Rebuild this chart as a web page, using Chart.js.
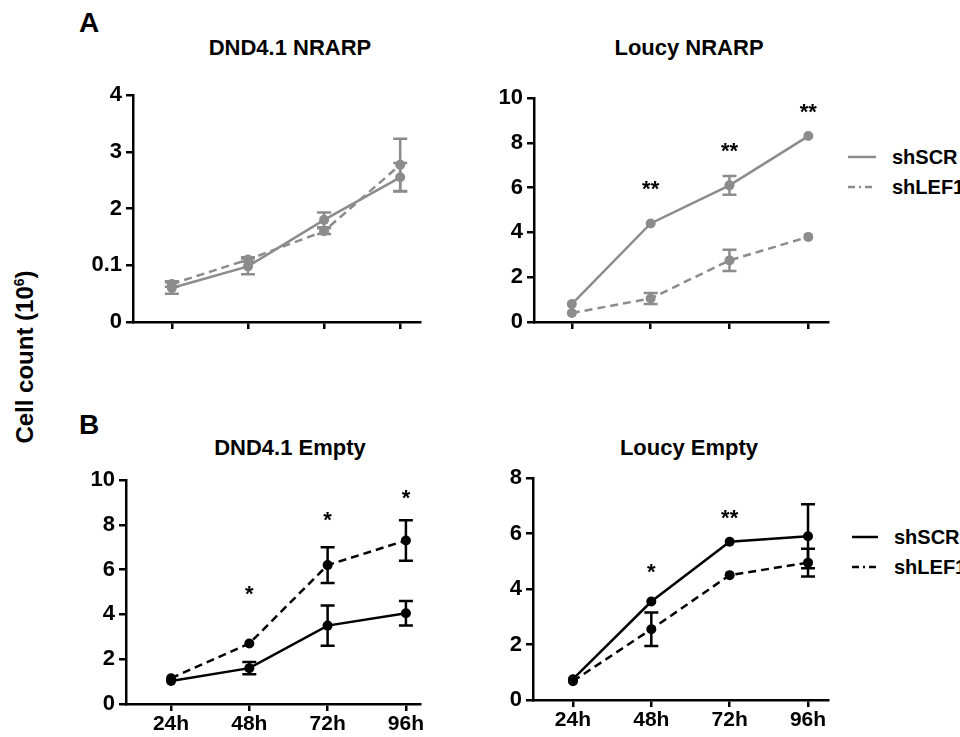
<!DOCTYPE html>
<html>
<head>
<meta charset="utf-8">
<script src="https://cdn.jsdelivr.net/npm/chart.js@4.4.1/dist/chart.umd.min.js"></script>
<style>
  body { margin: 0; background: #fff; }
  #page { position: relative; width: 960px; height: 737px; overflow: hidden;
          font-family: "Liberation Sans", Arial, sans-serif; font-weight: bold; color: #000; }
  .lbl { position: absolute; white-space: nowrap; }
  .title { font-size: 22px; transform: translateX(-50%); }
  .panel { font-size: 28px; }
  .legend { position: absolute; font-size: 20px; }
  .legend div { height: 30px; display: flex; align-items: center; }
  .legend svg { margin-right: 16px; }
  canvas { position: absolute; }
</style>
</head>
<body>
<div id="page">
  <div class="lbl panel" style="left:79px;top:7px">A</div>
  <div class="lbl panel" style="left:79px;top:409px">B</div>
  <div class="lbl title" style="left:290px;top:35px">DND4.1 NRARP</div>
  <div class="lbl title" style="left:689px;top:35px">Loucy NRARP</div>
  <div class="lbl title" style="left:290px;top:435px">DND4.1 Empty</div>
  <div class="lbl title" style="left:689px;top:435px">Loucy Empty</div>
  <div class="lbl" style="left:25px;top:357px;font-size:24px;transform:translate(-50%,-50%) rotate(-90deg)">Cell count (10<sup style="font-size:14px">6</sup>)</div>

  <div class="legend" style="left:848px;top:142px">
    <div><svg width="28" height="4"><line x1="0" y1="2" x2="28" y2="2" stroke="#8c8c8c" stroke-width="2.5"/></svg>shSCR</div>
    <div><svg width="28" height="4"><line x1="0" y1="2" x2="28" y2="2" stroke="#8c8c8c" stroke-width="2.5" stroke-dasharray="7 4 2 4"/></svg>shLEF1</div>
  </div>
  <div class="legend" style="left:852px;top:522px">
    <div><svg width="26" height="4"><line x1="0" y1="2" x2="26" y2="2" stroke="#000" stroke-width="2.5"/></svg>shSCR</div>
    <div><svg width="26" height="4"><line x1="0" y1="2" x2="26" y2="2" stroke="#000" stroke-width="2.5" stroke-dasharray="7 4 2 4"/></svg>shLEF1</div>
  </div>

  <canvas id="aLeft"></canvas>
  <canvas id="aRight"></canvas>
  <canvas id="bLeft"></canvas>
  <canvas id="bRight"></canvas>
</div>

<script>
// time points and the odd tick labels of the DND4.1 NRARP panel
const timepoints = ['24h', '48h', '72h', '96h'];
const dndNrarpTicks = ['0', '0.1', '2', '3', '4'];

// A: DND4.1 NRARP
const dndNrarpScr = [0.6, 0.98, 1.8, 2.55];
const dndNrarpScrErr = [0.1, 0.14, 0.13, 0.25];
const dndNrarpLef = [0.67, 1.1, 1.6, 2.77];
const dndNrarpLefErr = [0.05, 0.04, 0.05, 0.46];

// A: Loucy NRARP
const loucyNrarpScr = [0.8, 4.4, 6.1, 8.3];
const loucyNrarpScrErr = [0, 0, 0.42, 0];
const loucyNrarpLef = [0.4, 1.05, 2.75, 3.8];
const loucyNrarpLefErr = [0, 0.25, 0.47, 0];
const loucyNrarpStars = ['', '**', '**', '**'];
const loucyNrarpStarY = [0, 6.1, 7.8, 9.55];

// B: DND4.1 Empty
const dndEmptyScr = [1.03, 1.6, 3.5, 4.05];
const dndEmptyScrErr = [0, 0.27, 0.9, 0.55];
const dndEmptyLef = [1.15, 2.7, 6.2, 7.3];
const dndEmptyLefErr = [0, 0, 0.8, 0.9];
const dndEmptyStars = ['', '*', '*', '*'];
const dndEmptyStarY = [0, 5.1, 8.4, 9.4];

// B: Loucy Empty
const loucyEmptyScr = [0.75, 3.55, 5.7, 5.9];
const loucyEmptyScrErr = [0, 0, 0, 1.15];
const loucyEmptyLef = [0.68, 2.55, 4.5, 4.95];
const loucyEmptyLefErr = [0, 0.6, 0, 0.5];
const loucyEmptyStars = ['', '*', '**', ''];
const loucyEmptyStarY = [0, 4.75, 6.7, 0];

const GREY = '#8c8c8c';
const BLACK = '#000';

Chart.defaults.font.family = '"Liberation Sans", Arial, sans-serif';
Chart.defaults.font.weight = 'bold';
Chart.defaults.color = '#000';

const errorBars = {
  id: 'errorBars',
  afterDatasetsDraw(chart) {
    const { ctx, scales: { x, y } } = chart;
    chart.data.datasets.forEach(ds => {
      ctx.save();
      ctx.strokeStyle = ds.borderColor;
      ctx.lineWidth = 2.5;
      ctx.setLineDash([]);
      ds.data.forEach((p, i) => {
        const e = ds.errors[i];
        if (!e) return;
        const px = x.getPixelForValue(p.x);
        const top = y.getPixelForValue(p.y + e);
        const bot = y.getPixelForValue(p.y - e);
        ctx.beginPath();
        ctx.moveTo(px, top); ctx.lineTo(px, bot);
        ctx.moveTo(px - 7, top); ctx.lineTo(px + 7, top);
        ctx.moveTo(px - 7, bot); ctx.lineTo(px + 7, bot);
        ctx.stroke();
      });
      ctx.restore();
    });
  }
};

const stars = {
  id: 'stars',
  afterDatasetsDraw(chart, args, opts) {
    if (!opts.labels) return;
    const { ctx, scales: { x, y } } = chart;
    ctx.save();
    ctx.font = 'bold 22px "Liberation Sans", Arial, sans-serif';
    ctx.fillStyle = '#000';
    ctx.textAlign = 'center';
    ctx.textBaseline = 'middle';
    opts.labels.forEach((s, i) => {
      if (!s) return;
      ctx.fillText(s, x.getPixelForValue(i), y.getPixelForValue(opts.ys[i]) + 5);
    });
    ctx.restore();
  }
};

function series(label, values, errors, color, dashed) {
  return {
    label,
    data: values.map((v, i) => ({ x: i, y: v })),
    errors,
    borderColor: color,
    backgroundColor: color,
    borderWidth: 2.5,
    borderDash: dashed ? [8, 5] : [],
    pointRadius: 5,
    pointBorderWidth: 0,
    tension: 0
  };
}

// box = where the plot area sits on the page
function makeChart(id, box, datasets, yOpts, showX, starOpts) {
  const padL = 70, padT = 25, padR = 30, padB = 45;
  const cv = document.getElementById(id);
  cv.width = box.right - box.axisX + padL + padR;
  cv.height = box.bottom - box.top + padT + padB;
  cv.style.left = (box.axisX - padL) + 'px';
  cv.style.top = (box.top - padT) + 'px';

  const axisGrid = { display: true, drawOnChartArea: false, drawTicks: true, tickLength: 7, color: '#000', lineWidth: 2.5 };
  const axisBorder = { display: true, color: '#000', width: 2.5 };

  return new Chart(cv, {
    type: 'line',
    data: { datasets },
    options: {
      responsive: false,
      animation: false,
      devicePixelRatio: 1,
      layout: { padding: { top: padT, right: padR, left: 0, bottom: 0 } },
      plugins: { legend: { display: false }, tooltip: { enabled: false }, stars: starOpts || {} },
      scales: {
        x: {
          type: 'linear',
          min: box.xmin, max: box.xmax,
          grid: axisGrid, border: axisBorder,
          afterBuildTicks: s => { s.ticks = timepoints.map((t, i) => ({ value: i })); },
          afterFit: s => { s.height = padB; },
          ticks: {
            display: showX,
            padding: 1,
            font: { size: 21, weight: 'bold' },
            callback: v => timepoints[v] ?? ''
          }
        },
        y: {
          min: 0, max: yOpts.max,
          grid: axisGrid, border: axisBorder,
          afterFit: s => { s.width = padL; },
          ticks: {
            stepSize: yOpts.step,
            padding: 4,
            font: { size: 22, weight: 'bold' },
            callback: yOpts.labels ? (v => yOpts.labels[v]) : (v => v)
          }
        }
      }
    },
    plugins: [errorBars, stars]
  });
}

makeChart('aLeft',
  { axisX: 133, right: 420, top: 95, bottom: 322, xmin: -0.51, xmax: 3.26 },
  [series('shSCR', dndNrarpScr, dndNrarpScrErr, GREY, false),
   series('shLEF1', dndNrarpLef, dndNrarpLefErr, GREY, true)],
  { max: 4, step: 1, labels: dndNrarpTicks }, false);

makeChart('aRight',
  { axisX: 534, right: 828, top: 98, bottom: 322, xmin: -0.48, xmax: 3.25 },
  [series('shSCR', loucyNrarpScr, loucyNrarpScrErr, GREY, false),
   series('shLEF1', loucyNrarpLef, loucyNrarpLefErr, GREY, true)],
  { max: 10, step: 2 }, false,
  { labels: loucyNrarpStars, ys: loucyNrarpStarY });

makeChart('bLeft',
  { axisX: 126, right: 420, top: 480, bottom: 704, xmin: -0.575, xmax: 3.18 },
  [series('shSCR', dndEmptyScr, dndEmptyScrErr, BLACK, false),
   series('shLEF1', dndEmptyLef, dndEmptyLefErr, BLACK, true)],
  { max: 10, step: 2 }, true,
  { labels: dndEmptyStars, ys: dndEmptyStarY });

makeChart('bRight',
  { axisX: 533, right: 828, top: 478, bottom: 700, xmin: -0.51, xmax: 3.255 },
  [series('shSCR', loucyEmptyScr, loucyEmptyScrErr, BLACK, false),
   series('shLEF1', loucyEmptyLef, loucyEmptyLefErr, BLACK, true)],
  { max: 8, step: 2 }, true,
  { labels: loucyEmptyStars, ys: loucyEmptyStarY });
</script>
</body>
</html>
